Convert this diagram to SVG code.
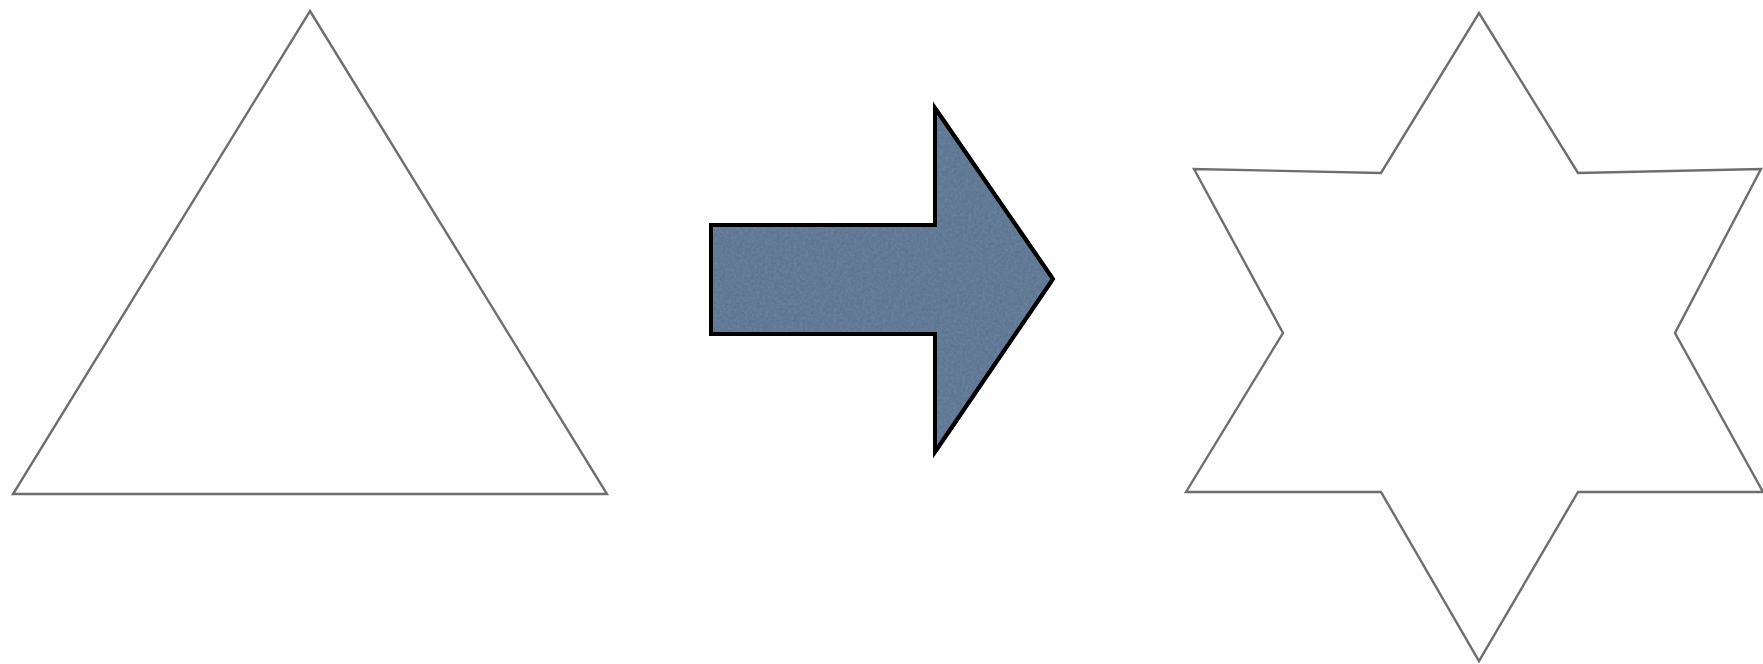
<svg xmlns="http://www.w3.org/2000/svg" width="1763" height="664" viewBox="0 0 1763 664">
  <style>
    .outline { fill: #ffffff; stroke: #6e6e6e; stroke-width: 2.4; stroke-linejoin: miter; }
    .arrow { fill: #56708e; stroke: #000000; stroke-width: 4; stroke-linejoin: miter; }
  </style>
  <defs>
    <filter id="texture" x="0" y="0" width="100%" height="100%">
      <feTurbulence type="fractalNoise" baseFrequency="0.35" numOctaves="3" seed="4" result="noise"/>
      <feColorMatrix in="noise" type="matrix" values="0 0 0 0 0.30  0 0 0 0 0.40  0 0 0 0 0.52  0 0 0 0.3 0" result="tint"/>
      <feComposite in="tint" in2="SourceGraphic" operator="in" result="tex"/>
      <feMerge><feMergeNode in="SourceGraphic"/><feMergeNode in="tex"/></feMerge>
    </filter>
  </defs>
  <rect width="1763" height="664" fill="#ffffff"/>
  <g id="triangle">
    <polygon class="outline" points="310,11 607,494 13,494"/>
  </g>
  <g id="connectors">
    <g id="arrow">
      <polygon class="arrow" filter="url(#texture)" points="711,225 935,225 935,108 1053,279 935,452 935,334 711,334"/>
      <polygon fill="none" stroke="#000" stroke-width="4" points="711,225 935,225 935,108 1053,279 935,452 935,334 711,334"/>
    </g>
  </g>
  <g id="star">
    <polygon class="outline" points="1479,13 1578,173 1761,169 1675,333 1763,492 1578,492 1479,661 1381,492 1186,492 1283,333 1194,169 1381,173"/>
  </g>
</svg>
